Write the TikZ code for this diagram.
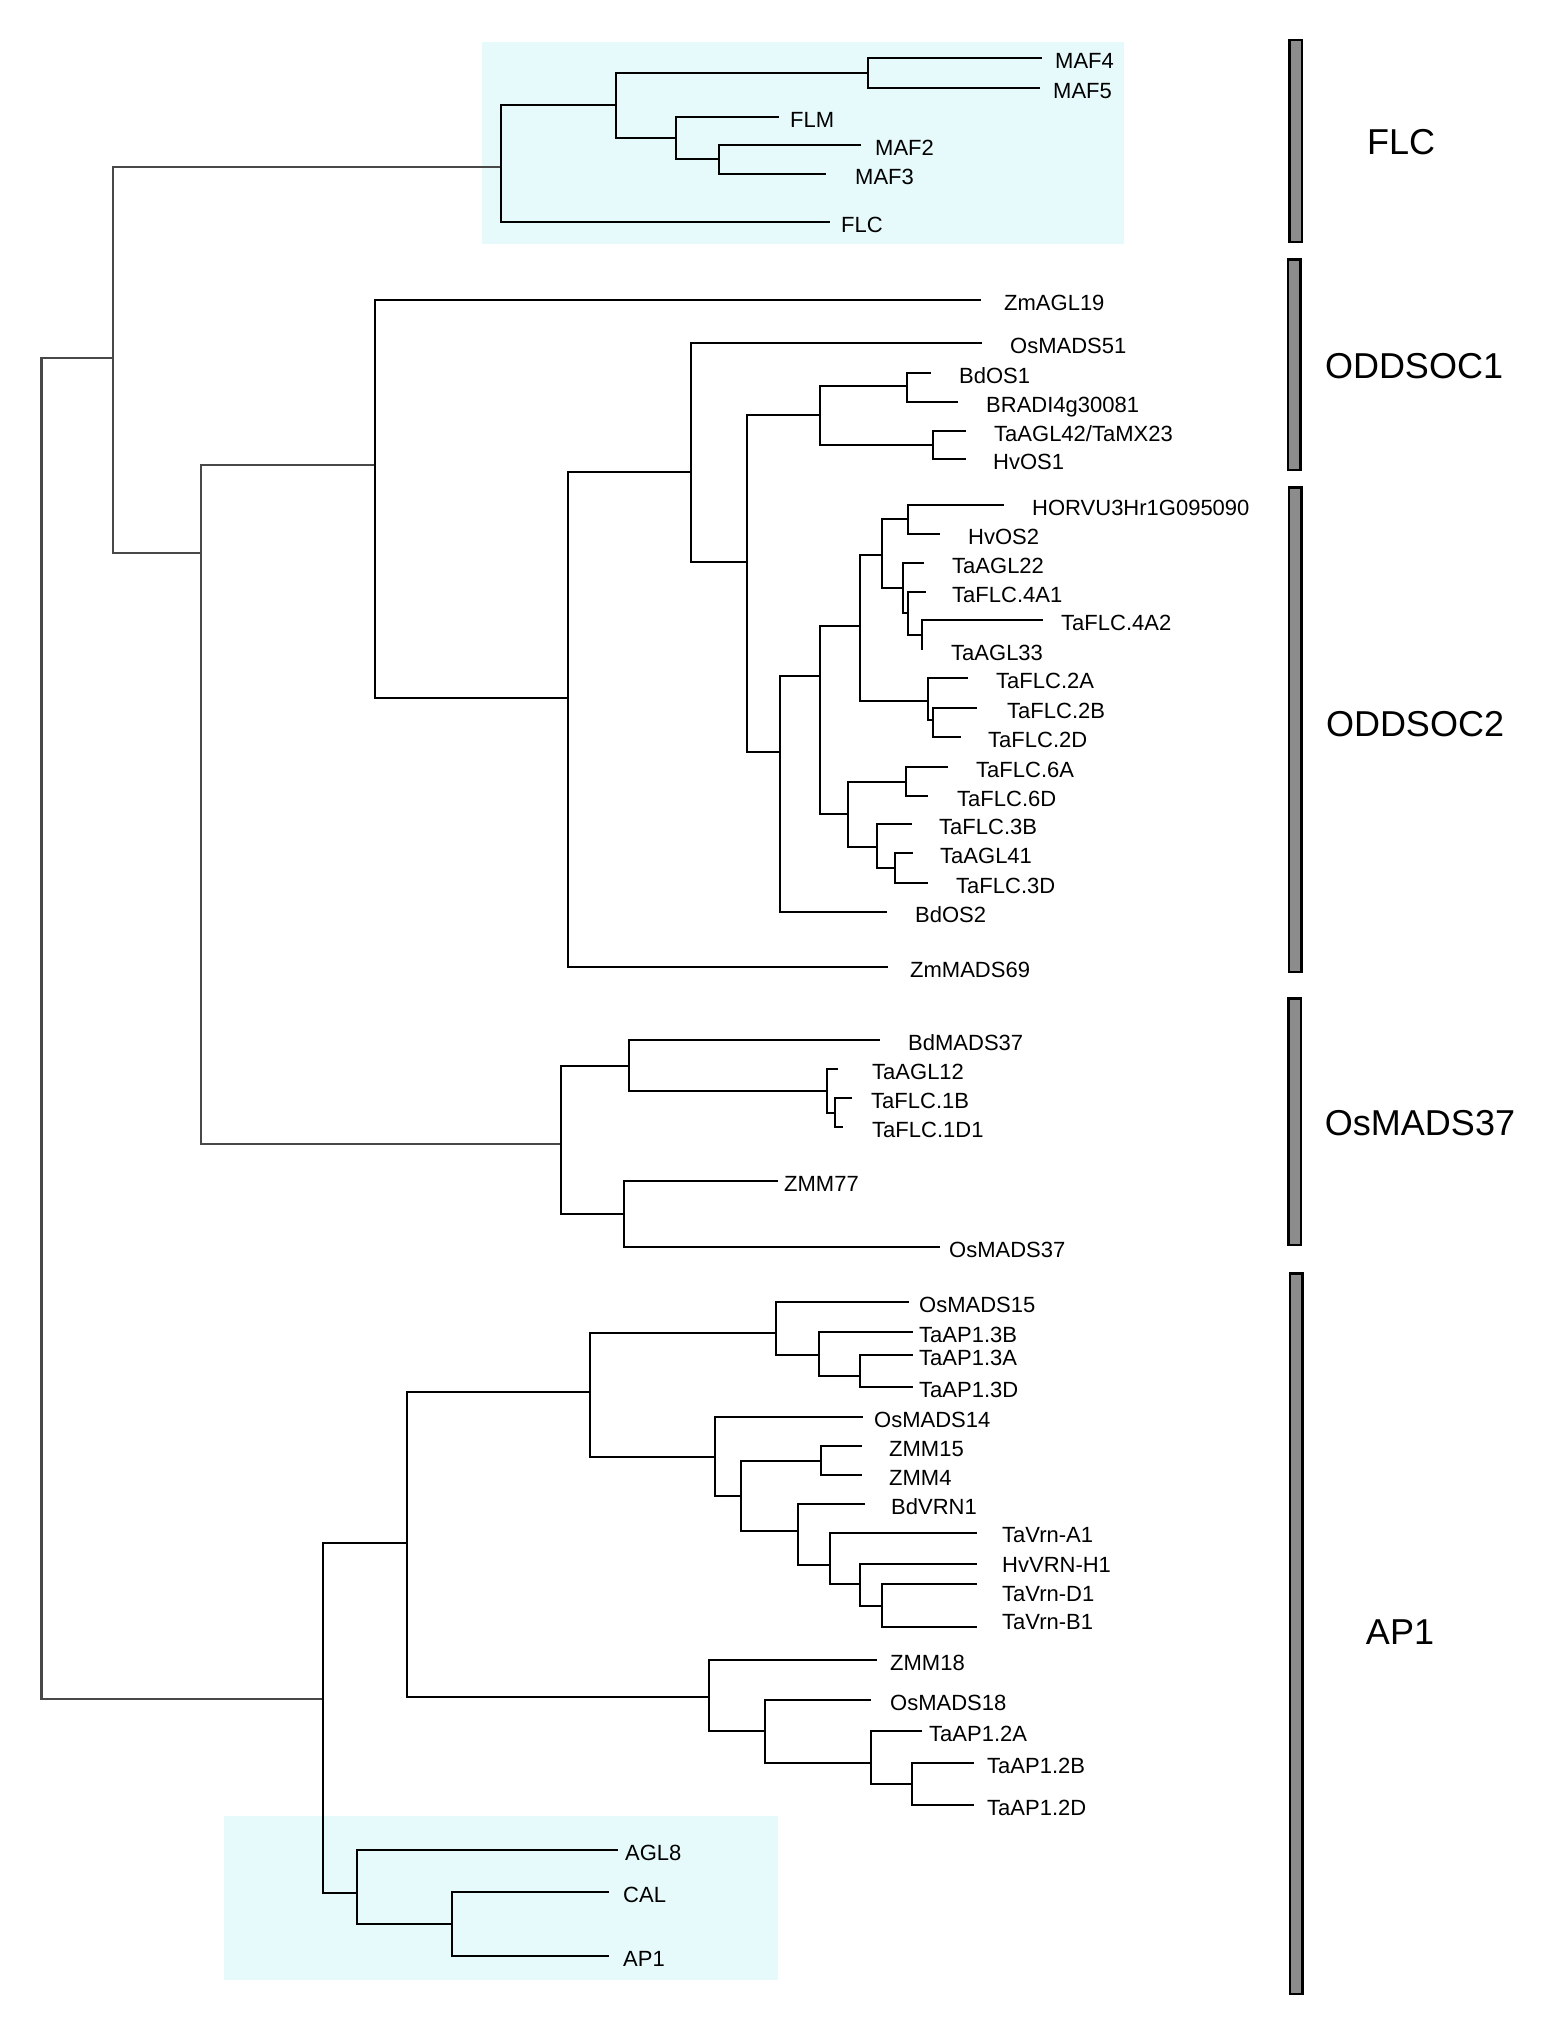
\documentclass[tikz,border=0pt]{standalone}
\usepackage{fontspec}
\setmainfont{Liberation Sans}
\usepackage{tikz}
\usepackage{xcolor}
\definecolor{cladebg}{RGB}{230,250,252}
\definecolor{stemgray}{RGB}{72,72,72}
\definecolor{bargray}{RGB}{140,140,140}
\tikzstyle{branch} = [line width=2.8pt, black]
\tikzstyle{stem} = [line width=2.8pt, stemgray]
\tikzstyle{leaf} = [anchor=west, inner sep=0pt, text height=16pt, text depth=0pt, font=\fontsize{22}{26}\selectfont]
\tikzstyle{cladebar} = [rectangle, draw=black, line width=2.5pt, fill=bargray, minimum width=12.5pt, inner sep=0pt]
\tikzstyle{cladename} = [inner sep=0pt, text height=26pt, text depth=0pt, font=\fontsize{36}{42}\selectfont]
\tikzstyle{cladebox} = [fill=cladebg]

\begin{document}
\begin{tikzpicture}[x=1pt, y=-1pt]
    \useasboundingbox (0,0) rectangle (1559,2042);
    % shaded Arabidopsis groups
    \fill [cladebox] (482,42) rectangle (1124,244);
    \fill [cladebox] (224,1816) rectangle (778,1980);

    % internal nodes
    \coordinate (root) at (41.5,1028);
    \coordinate (nA) at (113,358);
    \coordinate (nB) at (201,553);
    \coordinate (nFLC) at (501,167);
    \coordinate (nF1) at (616,105);
    \coordinate (nF2) at (868,73);
    \coordinate (nF3) at (676,138);
    \coordinate (nF4) at (719,159);
    \coordinate (nO) at (375,465);
    \coordinate (nO2) at (568,698);
    \coordinate (nO3) at (691,472);
    \coordinate (nO4) at (747,562);
    \coordinate (nOS1) at (820,415);
    \coordinate (nOS1a) at (907,386);
    \coordinate (nOS1b) at (933,445);
    \coordinate (nO5) at (780,752);
    \coordinate (nO6) at (820,676);
    \coordinate (nO7) at (860,626);
    \coordinate (nO9) at (882,555);
    \coordinate (nHv) at (908,519);
    \coordinate (nAg) at (903,588);
    \coordinate (nAg2) at (908,613);
    \coordinate (nAg3) at (922,635);
    \coordinate (nO2A) at (928,701);
    \coordinate (nO2B) at (933,720);
    \coordinate (nO8) at (848,814);
    \coordinate (nO6A) at (906,782);
    \coordinate (nO3B) at (877,847);
    \coordinate (nO3D) at (895,868);
    \coordinate (nM) at (561,1144);
    \coordinate (nM1) at (629,1066);
    \coordinate (nM3) at (827,1091);
    \coordinate (nM4) at (835,1113);
    \coordinate (nM2) at (624,1214);
    \coordinate (nAP) at (323,1699);
    \coordinate (nAP1) at (407,1543);
    \coordinate (nAP2) at (590,1392);
    \coordinate (nAP4) at (776,1333);
    \coordinate (nAP6) at (819,1355);
    \coordinate (nAP7) at (860,1376);
    \coordinate (nAP5) at (715,1457);
    \coordinate (nAP8) at (741,1496);
    \coordinate (nAP9) at (821,1461);
    \coordinate (nAP10) at (798,1531);
    \coordinate (nAP11) at (830,1565);
    \coordinate (nAP12) at (860,1584);
    \coordinate (nAP13) at (882,1606);
    \coordinate (nAP3) at (709,1697);
    \coordinate (nAP14) at (765,1731);
    \coordinate (nAP15) at (871,1763);
    \coordinate (nAP16) at (912,1784);
    \coordinate (nAr) at (357,1893);
    \coordinate (nAr2) at (452,1924);

    % leaves: tip and label
    \coordinate (t-MAF4) at (1042,58);      \node [leaf] (MAF4) at (1055,60) {MAF4};
    \coordinate (t-MAF5) at (1040,88);      \node [leaf] (MAF5) at (1053,90) {MAF5};
    \coordinate (t-FLM) at (779,117);       \node [leaf] (FLM) at (790,119) {FLM};
    \coordinate (t-MAF2) at (861,145);      \node [leaf] (MAF2) at (875,147) {MAF2};
    \coordinate (t-MAF3) at (826,174);      \node [leaf] (MAF3) at (855,176) {MAF3};
    \coordinate (t-FLC) at (830,222);       \node [leaf] (FLC) at (841,224) {FLC};
    \coordinate (t-ZmAGL19) at (981,300);   \node [leaf] (ZmAGL19) at (1004,302) {ZmAGL19};
    \coordinate (t-OsMADS51) at (982,343);  \node [leaf] (OsMADS51) at (1010,345) {OsMADS51};
    \coordinate (t-BdOS1) at (931,373);     \node [leaf] (BdOS1) at (959,375) {BdOS1};
    \coordinate (t-BRADI) at (958,402);     \node [leaf] (BRADI) at (986,404) {BRADI4g30081};
    \coordinate (t-TaAGL42) at (966,431);   \node [leaf] (TaAGL42) at (994,433) {TaAGL42/TaMX23};
    \coordinate (t-HvOS1) at (966,459);     \node [leaf] (HvOS1) at (993,461) {HvOS1};
    \coordinate (t-HORVU) at (1004,505);    \node [leaf] (HORVU) at (1032,507) {HORVU3Hr1G095090};
    \coordinate (t-HvOS2) at (940,534);     \node [leaf] (HvOS2) at (968,536) {HvOS2};
    \coordinate (t-TaAGL22) at (924,563);   \node [leaf] (TaAGL22) at (952,565) {TaAGL22};
    \coordinate (t-TaFLC4A1) at (926,592);  \node [leaf] (TaFLC4A1) at (952,594) {TaFLC.4A1};
    \coordinate (t-TaFLC4A2) at (1043,620); \node [leaf] (TaFLC4A2) at (1061,622) {TaFLC.4A2};
    \coordinate (t-TaAGL33) at (922,650);   \node [leaf] (TaAGL33) at (951,652) {TaAGL33};
    \coordinate (t-TaFLC2A) at (968,678);   \node [leaf] (TaFLC2A) at (996,680) {TaFLC.2A};
    \coordinate (t-TaFLC2B) at (977,708);   \node [leaf] (TaFLC2B) at (1007,710) {TaFLC.2B};
    \coordinate (t-TaFLC2D) at (961,737);   \node [leaf] (TaFLC2D) at (988,739) {TaFLC.2D};
    \coordinate (t-TaFLC6A) at (948,767);   \node [leaf] (TaFLC6A) at (976,769) {TaFLC.6A};
    \coordinate (t-TaFLC6D) at (928,796);   \node [leaf] (TaFLC6D) at (957,798) {TaFLC.6D};
    \coordinate (t-TaFLC3B) at (912,824);   \node [leaf] (TaFLC3B) at (939,826) {TaFLC.3B};
    \coordinate (t-TaAGL41) at (913,853);   \node [leaf] (TaAGL41) at (940,855) {TaAGL41};
    \coordinate (t-TaFLC3D) at (928,883);   \node [leaf] (TaFLC3D) at (956,885) {TaFLC.3D};
    \coordinate (t-BdOS2) at (887,912);     \node [leaf] (BdOS2) at (915,914) {BdOS2};
    \coordinate (t-ZmMADS69) at (888,967);  \node [leaf] (ZmMADS69) at (910,969) {ZmMADS69};
    \coordinate (t-BdMADS37) at (880,1040); \node [leaf] (BdMADS37) at (908,1042) {BdMADS37};
    \coordinate (t-TaAGL12) at (838,1069);  \node [leaf] (TaAGL12) at (872,1071) {TaAGL12};
    \coordinate (t-TaFLC1B) at (852,1098);  \node [leaf] (TaFLC1B) at (871,1100) {TaFLC.1B};
    \coordinate (t-TaFLC1D1) at (843,1127); \node [leaf] (TaFLC1D1) at (872,1129) {TaFLC.1D1};
    \coordinate (t-ZMM77) at (778,1181);    \node [leaf] (ZMM77) at (784,1183) {ZMM77};
    \coordinate (t-OsMADS37) at (940,1247); \node [leaf] (OsMADS37) at (949,1249) {OsMADS37};
    \coordinate (t-OsMADS15) at (909,1302); \node [leaf] (OsMADS15) at (919,1304) {OsMADS15};
    \coordinate (t-TaAP13B) at (913,1332);  \node [leaf] (TaAP13B) at (919,1334) {TaAP1.3B};
    \coordinate (t-TaAP13A) at (913,1355);  \node [leaf] (TaAP13A) at (919,1357) {TaAP1.3A};
    \coordinate (t-TaAP13D) at (913,1387);  \node [leaf] (TaAP13D) at (919,1389) {TaAP1.3D};
    \coordinate (t-OsMADS14) at (863,1417); \node [leaf] (OsMADS14) at (874,1419) {OsMADS14};
    \coordinate (t-ZMM15) at (862,1446);    \node [leaf] (ZMM15) at (889,1448) {ZMM15};
    \coordinate (t-ZMM4) at (862,1475);     \node [leaf] (ZMM4) at (889,1477) {ZMM4};
    \coordinate (t-BdVRN1) at (865,1504);   \node [leaf] (BdVRN1) at (891,1506) {BdVRN1};
    \coordinate (t-TaVrnA1) at (977,1533);  \node [leaf] (TaVrnA1) at (1002,1534) {TaVrn-A1};
    \coordinate (t-HvVRNH1) at (977,1564);  \node [leaf] (HvVRNH1) at (1002,1564) {HvVRN-H1};
    \coordinate (t-TaVrnD1) at (977,1584);  \node [leaf] (TaVrnD1) at (1002,1593) {TaVrn-D1};
    \coordinate (t-TaVrnB1) at (977,1627);  \node [leaf] (TaVrnB1) at (1002,1621) {TaVrn-B1};
    \coordinate (t-ZMM18) at (877,1660);    \node [leaf] (ZMM18) at (890,1662) {ZMM18};
    \coordinate (t-OsMADS18) at (871,1700); \node [leaf] (OsMADS18) at (890,1702) {OsMADS18};
    \coordinate (t-TaAP12A) at (922,1731);  \node [leaf] (TaAP12A) at (929,1733) {TaAP1.2A};
    \coordinate (t-TaAP12B) at (974,1763);  \node [leaf] (TaAP12B) at (987,1765) {TaAP1.2B};
    \coordinate (t-TaAP12D) at (974,1805);  \node [leaf] (TaAP12D) at (987,1807) {TaAP1.2D};
    \coordinate (t-AGL8) at (618,1850);     \node [leaf] (AGL8) at (625,1852) {AGL8};
    \coordinate (t-CAL) at (609,1892);      \node [leaf] (CAL) at (623,1894) {CAL};
    \coordinate (t-AP1) at (609,1956);      \node [leaf] (AP1) at (623,1958) {AP1};

    % clade bars and names
    \node [cladebar, minimum height=201.5pt] (barFLC) at (1295.5,141) {};
    \node [cladebar, minimum height=210.5pt] (barOS1) at (1294,364.5) {};
    \node [cladebar, minimum height=484.5pt] (barOS2) at (1295,729.5) {};
    \node [cladebar, minimum height=246.5pt] (barM37) at (1294.5,1121.5) {};
    \node [cladebar, minimum height=720.5pt] (barAP1) at (1296,1633.5) {};
    \node [cladename] (gFLC) at (1401,141) {FLC};
    \node [cladename] (gOS1) at (1414,365) {ODDSOC1};
    \node [cladename] (gOS2) at (1415,723) {ODDSOC2};
    \node [cladename] (gM37) at (1420,1122) {OsMADS37};
    \node [cladename] (gAP1) at (1400,1631) {AP1};

    % branches
    \draw [stem] (nA) -| (root) |- (nAP);
    \draw [stem] (nFLC) -| (nA) |- (nB);
    \draw [stem] (nO) -| (nB) |- (nM);
    \draw [branch] (nF1) -| (nFLC) |- (t-FLC);
    \draw [branch] (nF2) -| (nF1) |- (nF3);
    \draw [branch] (t-MAF4) -| (nF2) |- (t-MAF5);
    \draw [branch] (t-FLM) -| (nF3) |- (nF4);
    \draw [branch] (t-MAF2) -| (nF4) |- (t-MAF3);
    \draw [branch] (t-ZmAGL19) -| (nO) |- (nO2);
    \draw [branch] (nO3) -| (nO2) |- (t-ZmMADS69);
    \draw [branch] (t-OsMADS51) -| (nO3) |- (nO4);
    \draw [branch] (nOS1) -| (nO4) |- (nO5);
    \draw [branch] (nOS1a) -| (nOS1) |- (nOS1b);
    \draw [branch] (t-BdOS1) -| (nOS1a) |- (t-BRADI);
    \draw [branch] (t-TaAGL42) -| (nOS1b) |- (t-HvOS1);
    \draw [branch] (nO6) -| (nO5) |- (t-BdOS2);
    \draw [branch] (nO7) -| (nO6) |- (nO8);
    \draw [branch] (nO9) -| (nO7) |- (nO2A);
    \draw [branch] (nHv) -| (nO9) |- (nAg);
    \draw [branch] (t-HORVU) -| (nHv) |- (t-HvOS2);
    \draw [branch] (t-TaAGL22) -| (nAg) |- (nAg2);
    \draw [branch] (t-TaFLC4A1) -| (nAg2) |- (nAg3);
    \draw [branch] (t-TaFLC4A2) -| (nAg3) |- (t-TaAGL33);
    \draw [branch] (t-TaFLC2A) -| (nO2A) |- (nO2B);
    \draw [branch] (t-TaFLC2B) -| (nO2B) |- (t-TaFLC2D);
    \draw [branch] (nO6A) -| (nO8) |- (nO3B);
    \draw [branch] (t-TaFLC6A) -| (nO6A) |- (t-TaFLC6D);
    \draw [branch] (t-TaFLC3B) -| (nO3B) |- (nO3D);
    \draw [branch] (t-TaAGL41) -| (nO3D) |- (t-TaFLC3D);
    \draw [branch] (nM1) -| (nM) |- (nM2);
    \draw [branch] (t-BdMADS37) -| (nM1) |- (nM3);
    \draw [branch] (t-TaAGL12) -| (nM3) |- (nM4);
    \draw [branch] (t-TaFLC1B) -| (nM4) |- (t-TaFLC1D1);
    \draw [branch] (t-ZMM77) -| (nM2) |- (t-OsMADS37);
    \draw [branch] (nAP1) -| (nAP) |- (nAr);
    \draw [branch] (nAP2) -| (nAP1) |- (nAP3);
    \draw [branch] (nAP4) -| (nAP2) |- (nAP5);
    \draw [branch] (t-OsMADS15) -| (nAP4) |- (nAP6);
    \draw [branch] (t-TaAP13B) -| (nAP6) |- (nAP7);
    \draw [branch] (t-TaAP13A) -| (nAP7) |- (t-TaAP13D);
    \draw [branch] (t-OsMADS14) -| (nAP5) |- (nAP8);
    \draw [branch] (nAP9) -| (nAP8) |- (nAP10);
    \draw [branch] (t-ZMM15) -| (nAP9) |- (t-ZMM4);
    \draw [branch] (t-BdVRN1) -| (nAP10) |- (nAP11);
    \draw [branch] (t-TaVrnA1) -| (nAP11) |- (nAP12);
    \draw [branch] (t-HvVRNH1) -| (nAP12) |- (nAP13);
    \draw [branch] (t-TaVrnD1) -| (nAP13) |- (t-TaVrnB1);
    \draw [branch] (t-ZMM18) -| (nAP3) |- (nAP14);
    \draw [branch] (t-OsMADS18) -| (nAP14) |- (nAP15);
    \draw [branch] (t-TaAP12A) -| (nAP15) |- (nAP16);
    \draw [branch] (t-TaAP12B) -| (nAP16) |- (t-TaAP12D);
    \draw [branch] (t-AGL8) -| (nAr) |- (nAr2);
    \draw [branch] (t-CAL) -| (nAr2) |- (t-AP1);
\end{tikzpicture}
\end{document}
